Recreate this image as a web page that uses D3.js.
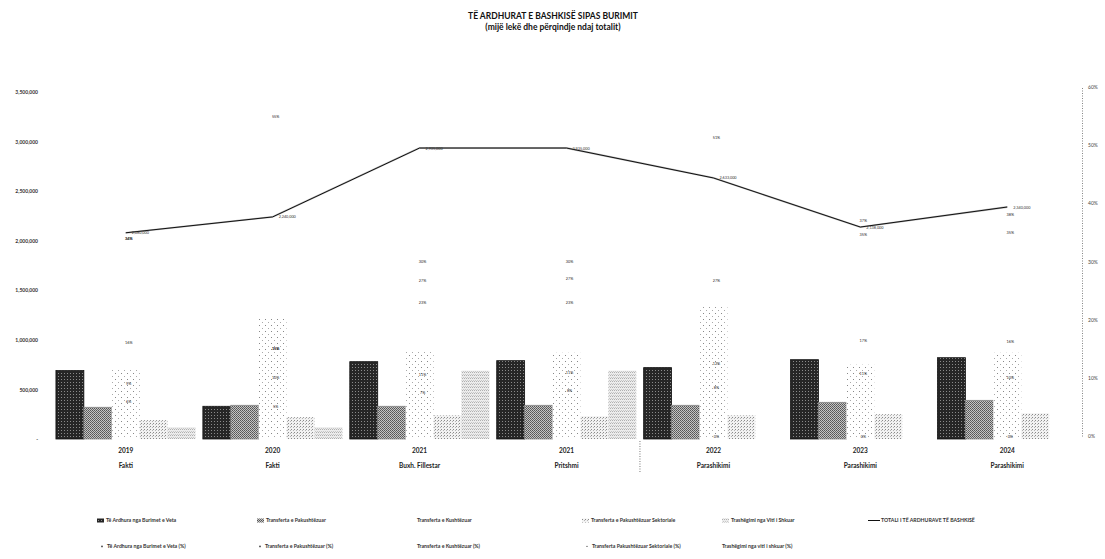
<!DOCTYPE html>
<html>
<head>
<meta charset="utf-8">
<script src="https://cdn.jsdelivr.net/npm/d3@7"></script>
<style>
  body { margin: 0; background: #fff; }
  text { font-family: Lato, "Open Sans", sans-serif; }
</style>
</head>
<body>
<div id="chart"></div>
<script>
// values in thousand lekë
const years = ["2019", "2020", "2021", "2021", "2022", "2023", "2024"];
const stages = ["Fakti", "Fakti", "Buxh. Fillestar", "Pritshmi", "Parashikimi", "Parashikimi", "Parashikimi"];

const ownRevenue = [690000, 330000, 780000, 790000, 720000, 800000, 820000];
const unconditional = [320000, 340000, 330000, 340000, 340000, 370000, 390000];
const conditional = [700000, 1230000, 880000, 870000, 1330000, 750000, 870000];
const sectoral = [190000, 220000, 240000, 230000, 240000, 250000, 260000];
const inherited = [120000, 120000, 690000, 690000, 0, 0, 0];
const total = [2080000, 2240000, 2935000, 2935000, 2633000, 2138000, 2340000];

const ownPct = [0.34, 0.15, 0.268, 0.27, 0.268, 0.37, 0.35];
const unconditionalPct = [0.16, 0.15, 0.105, 0.11, 0.124, 0.165, 0.162];
const conditionalPct = [0.34, 0.55, 0.30, 0.30, 0.514, 0.347, 0.38];
const sectoralPct = [0.09, 0.10, 0.074, 0.078, 0.084, 0.108, 0.101];
const inheritedPct = [0.06, 0.05, 0.23, 0.23, 0, 0, 0];

const leftTicks = [0, 500000, 1000000, 1500000, 2000000, 2500000, 3000000, 3500000];
const rightTicks = [0, 0.1, 0.2, 0.3, 0.4, 0.5, 0.6];

const barNames = ["Të Ardhura nga Burimet e Veta", "Transferta e Pakushtëzuar", "Transferta e Kushtëzuar",
  "Transferta e Pakushtëzuar Sektoriale", "Trashëgimi nga Viti i Shkuar"];
const pctNames = ["Të Ardhura nga Burimet e Veta (%)", "Transferta e Pakushtëzuar (%)", "Transferta e Kushtëzuar (%)",
  "Transferta Pakushtëzuar Sektoriale (%)", "Trashëgimi nga viti i shkuar (%)"];
const totalName = "TOTALI I TË ARDHURAVE TË BASHKISË";

const barSeries = [ownRevenue, unconditional, conditional, sectoral, inherited];
const pctSeries = [ownPct, unconditionalPct, conditionalPct, sectoralPct, inheritedPct];

const width = 1105, height = 559;

const svg = d3.select("#chart").append("svg")
    .attr("width", width)
    .attr("height", height);

// fill patterns that imitate the scanned hatching
const defs = svg.append("defs");

const pOwn = defs.append("pattern").attr("id", "p0").attr("patternUnits", "userSpaceOnUse")
    .attr("width", 3).attr("height", 3);
pOwn.append("rect").attr("width", 3).attr("height", 3).attr("fill", "#262626");
pOwn.append("rect").attr("x", 1).attr("y", 1).attr("width", 1).attr("height", 1).attr("fill", "#8a8a8a");

const pUn = defs.append("pattern").attr("id", "p1").attr("patternUnits", "userSpaceOnUse")
    .attr("width", 2).attr("height", 2);
pUn.append("rect").attr("width", 2).attr("height", 2).attr("fill", "#c4c4c4");
pUn.append("rect").attr("width", 1).attr("height", 1).attr("fill", "#555");
pUn.append("rect").attr("x", 1).attr("y", 1).attr("width", 1).attr("height", 1).attr("fill", "#666");

const pCond = defs.append("pattern").attr("id", "p2").attr("patternUnits", "userSpaceOnUse")
    .attr("width", 6).attr("height", 6);
pCond.append("rect").attr("width", 6).attr("height", 6).attr("fill", "#fff");
pCond.append("rect").attr("x", 1).attr("y", 1).attr("width", 1).attr("height", 1).attr("fill", "#888");
pCond.append("rect").attr("x", 4).attr("y", 4).attr("width", 1).attr("height", 1).attr("fill", "#aaa");

const pSect = defs.append("pattern").attr("id", "p3").attr("patternUnits", "userSpaceOnUse")
    .attr("width", 3).attr("height", 3);
pSect.append("rect").attr("width", 3).attr("height", 3).attr("fill", "#f2f2f2");
pSect.append("rect").attr("width", 1).attr("height", 1).attr("fill", "#8a8a8a");
pSect.append("rect").attr("x", 2).attr("y", 1).attr("width", 1).attr("height", 1).attr("fill", "#b5b5b5");

const pInh = defs.append("pattern").attr("id", "p4").attr("patternUnits", "userSpaceOnUse")
    .attr("width", 2).attr("height", 3);
pInh.append("rect").attr("width", 2).attr("height", 3).attr("fill", "#ececec");
pInh.append("rect").attr("width", 1).attr("height", 1).attr("fill", "#b0b0b0");
pInh.append("rect").attr("x", 1).attr("y", 2).attr("width", 1).attr("height", 1).attr("fill", "#c8c8c8");

const barStroke = ["#111", "#888", "none", "none", "none"];

// scales
const x0 = d3.scaleBand()
    .domain(d3.range(years.length))
    .range([53, 1080])
    .paddingInner(0.05)
    .paddingOuter(0.02);

const x1 = d3.scaleBand()
    .domain(d3.range(barSeries.length))
    .range([0, x0.bandwidth()]);

const yLeft = d3.scaleLinear().domain([0, 3500000]).range([439, 92]);
const yRight = d3.scaleLinear().domain([0, 0.6]).range([436, 87]);

// title
svg.append("text")
    .attr("x", 553).attr("y", 19)
    .attr("text-anchor", "middle")
    .attr("font-size", 8.5).attr("font-weight", 700).attr("fill", "#111")
    .text("TË ARDHURAT E BASHKISË SIPAS BURIMIT");
svg.append("text")
    .attr("x", 553).attr("y", 30)
    .attr("text-anchor", "middle")
    .attr("font-size", 8.5).attr("font-weight", 700).attr("fill", "#111")
    .text("(mijë lekë dhe përqindje ndaj totalit)");

// left axis (labels only)
const leftAxis = svg.append("g")
    .attr("transform", "translate(38,0)")
    .call(d3.axisLeft(yLeft).tickValues(leftTicks).tickSize(0).tickPadding(0)
        .tickFormat(d => d === 0 ? "-" : d3.format(",")(d)));
leftAxis.select(".domain").remove();
leftAxis.selectAll("text").attr("font-size", 5).attr("font-weight", 700).attr("fill", "#333");

// right axis, dotted line
const rightAxis = svg.append("g")
    .attr("transform", "translate(1082,0)")
    .call(d3.axisRight(yRight).tickValues(rightTicks).tickSize(0).tickPadding(6)
        .tickFormat(d3.format(".0%")));
rightAxis.select(".domain")
    .attr("stroke", "#777").attr("stroke-width", 0.9).attr("stroke-dasharray", "1,1.5");
rightAxis.selectAll("text").attr("font-size", 5).attr("fill", "#444");

// bars
barSeries.forEach((values, s) => {
    svg.append("g").selectAll("rect")
        .data(values)
        .join("rect")
        .attr("x", (d, i) => x0(i) + x1(s))
        .attr("y", d => yLeft(d))
        .attr("width", x1.bandwidth())
        .attr("height", d => yLeft(0) - yLeft(d))
        .attr("fill", `url(#p${s})`)
        .attr("stroke", barStroke[s])
        .attr("stroke-width", 0.8);
});

// category labels
const cx = i => x0(i) + x0.bandwidth() / 2;
svg.append("g").selectAll("text")
    .data(years)
    .join("text")
    .attr("x", (d, i) => cx(i)).attr("y", 453)
    .attr("text-anchor", "middle")
    .attr("font-size", 6.5).attr("font-weight", 700).attr("fill", "#222")
    .text(d => d);
svg.append("g").selectAll("text")
    .data(stages)
    .join("text")
    .attr("x", (d, i) => cx(i)).attr("y", 468)
    .attr("text-anchor", "middle")
    .attr("font-size", 6.5).attr("font-weight", 700).attr("fill", "#222")
    .text(d => d);

// separator between actual and forecast columns
const sepX = (x0(3) + x0.bandwidth() + x0(4)) / 2;
svg.append("line")
    .attr("x1", sepX).attr("x2", sepX)
    .attr("y1", 441).attr("y2", 472)
    .attr("stroke", "#555").attr("stroke-width", 0.8).attr("stroke-dasharray", "1,1.5");

// total line
const line = d3.line()
    .x((d, i) => cx(i))
    .y(d => yLeft(d));

svg.append("path")
    .datum(total)
    .attr("d", line)
    .attr("fill", "none")
    .attr("stroke", "#bbb")
    .attr("stroke-width", 1.8);
svg.append("path")
    .datum(total)
    .attr("d", line)
    .attr("fill", "none")
    .attr("stroke", "#111")
    .attr("stroke-width", 1);

svg.append("g").selectAll("text")
    .data(total)
    .join("text")
    .attr("x", (d, i) => cx(i) + 6)
    .attr("y", d => yLeft(d) + 1.5)
    .attr("font-size", 3.8).attr("fill", "#333")
    .text(d => d3.format(",")(d));

// percentage labels on the right scale
pctSeries.forEach(values => {
    svg.append("g").selectAll("text")
        .data(values)
        .join("text")
        .attr("x", (d, i) => cx(i) + 3)
        .attr("y", d => yRight(d) + 1.5)
        .attr("text-anchor", "middle")
        .attr("font-size", 3.8).attr("fill", "#222")
        .text(d => d3.format(".0%")(d));
});

// legend
const legendFont = 5.2;
const row1X = [97, 257, 417, 582, 722, 868];
const row2X = [100, 258, 417, 585, 722];

barNames.forEach((name, s) => {
    const g = svg.append("g").attr("transform", `translate(${row1X[s]},522)`);
    if (s !== 2) {
        g.append("rect")
            .attr("x", 0).attr("y", -3.5)
            .attr("width", 7).attr("height", 4)
            .attr("fill", `url(#p${s})`);
    }
    g.append("text")
        .attr("x", s === 2 ? 0 : 9).attr("y", 0)
        .attr("font-size", legendFont).attr("font-weight", 700).attr("fill", "#333")
        .text(name);
});

const lineLegend = svg.append("g").attr("transform", `translate(${row1X[5]},522)`);
lineLegend.append("line")
    .attr("x1", 0).attr("x2", 12).attr("y1", -1.5).attr("y2", -1.5)
    .attr("stroke", "#111").attr("stroke-width", 1);
lineLegend.append("text")
    .attr("x", 13).attr("y", 0)
    .attr("font-size", legendFont).attr("font-weight", 700).attr("fill", "#333")
    .text(totalName);

const markerR = [0.9, 0.9, 0, 0.6, 0];
pctNames.forEach((name, s) => {
    const g = svg.append("g").attr("transform", `translate(${row2X[s]},548)`);
    if (markerR[s] > 0) {
        g.append("circle")
            .attr("cx", 2).attr("cy", -1.6).attr("r", markerR[s])
            .attr("fill", "#444");
    }
    g.append("text")
        .attr("x", markerR[s] > 0 ? 7 : 0).attr("y", 0)
        .attr("font-size", legendFont).attr("font-weight", 700).attr("fill", "#333")
        .text(name);
});
</script>
</body>
</html>
